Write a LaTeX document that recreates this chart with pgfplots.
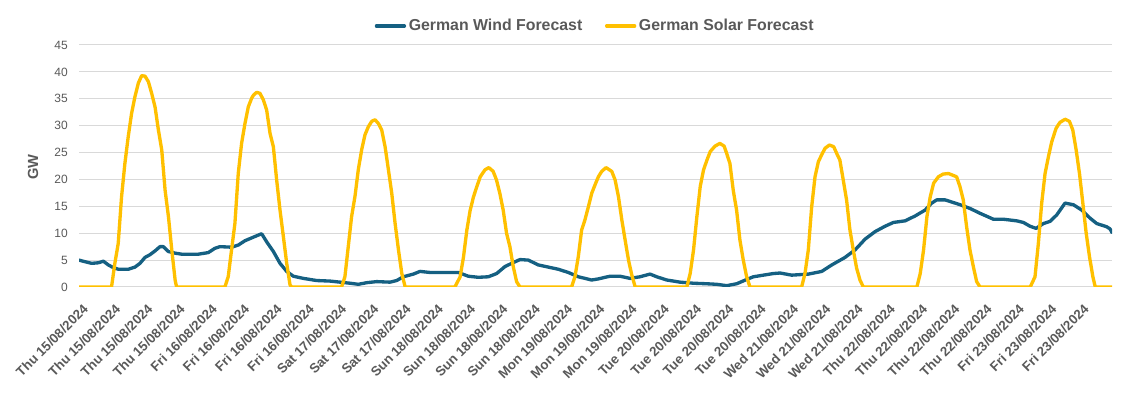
\documentclass[border=0pt]{standalone}
\usepackage{fontspec}
\setmainfont{Liberation Sans}
\usepackage{pgfplots}
\pgfplotsset{compat=1.18}
\newlength\px \setlength\px{0.75pt}
\definecolor{windc}{HTML}{156082}
\definecolor{solarc}{HTML}{FFC000}
\definecolor{txt}{HTML}{595959}
\definecolor{grd}{HTML}{D9D9D9}
\begin{document}
\begin{tikzpicture}
\path[use as bounding box] (0,0) rectangle (1132\px,398\px);
\begin{axis}[
  at={(79\px,111\px)}, anchor=south west,
  scale only axis, width=1033\px, height=242\px,
  xmin=0, xmax=216, ymin=0, ymax=45,
  ytick={0,5,...,45},
  xtick={0,6.75,13.5,20.25,27,33.75,40.5,47.25,54,60.75,67.5,74.25,81,87.75,94.5,101.25,108,114.75,121.5,128.25,135,141.75,148.5,155.25,162,168.75,175.5,182.25,189,195.75,202.5,209.25},
  xticklabels={Thu 15/08/2024,Thu 15/08/2024,Thu 15/08/2024,Thu 15/08/2024,
    Fri 16/08/2024,Fri 16/08/2024,Fri 16/08/2024,Fri 16/08/2024,
    Sat 17/08/2024,Sat 17/08/2024,Sat 17/08/2024,
    Sun 18/08/2024,Sun 18/08/2024,Sun 18/08/2024,Sun 18/08/2024,
    Mon 19/08/2024,Mon 19/08/2024,Mon 19/08/2024,
    Tue 20/08/2024,Tue 20/08/2024,Tue 20/08/2024,Tue 20/08/2024,
    Wed 21/08/2024,Wed 21/08/2024,Wed 21/08/2024,
    Thu 22/08/2024,Thu 22/08/2024,Thu 22/08/2024,Thu 22/08/2024,
    Fri 23/08/2024,Fri 23/08/2024,Fri 23/08/2024},
  axis lines*=left,
  x axis line style={-, draw=grd, line width=1\px},
  y axis line style={draw=none},
  major tick length=0pt,
  xtick style={draw=none}, ytick style={draw=none},
  ymajorgrids, grid style={grd, line width=1\px},
  /pgf/number format/assume math mode=true,
  yticklabel style={font=\fontsize{9}{10}\selectfont, text=txt, inner sep=0pt, anchor=east, xshift=-11\px},
  xticklabel style={font=\fontsize{10}{12}\selectfont\bfseries, text=txt, inner sep=0pt, anchor=north east, xshift=3\px, yshift=-16\px, rotate=45},
  legend style={at={(0.5,1)}, anchor=center, yshift=19\px, draw=none, fill=none,
    font=\fontsize{11.9}{13}\selectfont\bfseries, text=txt,
    /tikz/every even column/.append style={column sep=20\px}},
  legend columns=2,
  legend image code/.code={\draw[#1] (0pt,0pt) -- (28\px,0pt);},
  every axis plot/.append style={line width=2.5pt, line join=round, line cap=round},
]
\addplot[windc] coordinates {
(0,5.0) (1.25,4.7) (2.65,4.4) (4.04,4.5) (5.09,4.8) (6.13,4.1) (7.18,3.6) (8.22,3.3) (10.31,3.3) (11.71,3.7)
(12.75,4.4) (13.80,5.5) (14.84,6.0) (15.89,6.7) (16.93,7.5) (17.63,7.5) (18.68,6.6) (20.07,6.3) (21.46,6.1) (24.95,6.1)
(27.04,6.4) (28.43,7.2) (29.48,7.5) (31.92,7.4) (33.31,7.8) (34.70,8.6) (35.76,9.0) (36.81,9.4) (38.20,9.9) (39.24,8.4)
(40.64,6.6) (42.03,4.4) (43.43,2.9) (44.82,2.0) (46.91,1.6) (49.70,1.2) (52.48,1.1) (54.58,0.9) (56.67,0.7) (58.41,0.5)
(60.15,0.8) (62.24,1.0) (65.03,0.9) (66.42,1.2) (67.82,1.9) (69.91,2.4) (71.30,2.9) (73.39,2.7) (79.32,2.7) (81.41,2.0)
(83.50,1.8) (85.59,1.9) (87.33,2.5) (89.07,3.8) (90.47,4.4) (92.21,5.1) (93.95,5.0) (96.04,4.1) (98.13,3.7) (100.22,3.3)
(102.31,2.7) (104.41,1.9) (107.19,1.3) (108.59,1.5) (110.0,1.8) (111.04,2.0) (113.13,2.0) (115.22,1.6) (117.31,1.9) (119.40,2.4)
(120.80,1.9) (122.89,1.3) (125.67,0.9) (128.46,0.7) (131.25,0.6) (133.34,0.5) (135.43,0.25) (137.52,0.6) (139.61,1.4) (141.01,1.9)
(143.10,2.2) (145.19,2.5) (146.6,2.6) (149.03,2.2) (152.52,2.4) (155.31,2.9) (157.40,4.1) (158.79,4.8) (160.18,5.5) (162.28,6.9)
(164.37,8.9) (166.46,10.3) (168.55,11.3) (170.29,12.0) (172.73,12.3) (174.82,13.2) (176.91,14.3) (178.30,15.6) (179.35,16.2) (181.09,16.2)
(182.14,15.9) (184.23,15.3) (186.32,14.6) (188.41,13.7) (191.20,12.6) (193.29,12.6) (196.08,12.3) (197.47,12.0) (198.86,11.3) (200.12,10.9)
(201.65,11.8) (203.05,12.2) (204.44,13.4) (206.18,15.6) (207.92,15.3) (209.67,14.3) (211.41,12.8) (212.80,11.8) (214.89,11.2) (215.59,10.8)
(216.0,10.1)
};
\addlegendentry{German Wind Forecast}
\addplot[solarc] coordinates {
(0,0) (6.8,0) (7.5,4.4) (8.2,8.1) (8.9,16.8) (9.6,23) (10.3,28) (11.0,32.3) (11.7,35.4) (12.4,37.9)
(13.1,39.3) (13.8,39.2) (14.5,38.2) (15.2,36) (15.9,33.5) (16.6,29.2) (17.3,25.5) (18.0,18) (18.7,13.1) (19.4,6.9)
(20.1,1.3) (20.4,0) (30.5,0) (31.2,1.9) (31.9,6.9) (32.6,11.8) (33.3,21.1) (34.0,26.7) (34.7,30.4) (35.4,33.5)
(36.1,35.1) (36.5,35.7) (37.15,36.2) (37.85,36.0) (38.55,34.8) (39.24,32.9) (39.94,28.6) (40.64,26.1) (41.33,19.9) (42.03,14.3)
(42.73,9.4) (43.43,4.4) (44.12,0.4) (44.47,0) (54.9,0) (55.6,1.9) (56.3,7.5) (57.0,13.1) (57.7,16.8) (58.4,21.8)
(59.1,25.5) (59.8,28.3) (60.5,29.8) (61.2,30.8) (61.9,31.1) (62.6,30.4) (63.3,29.2) (64.0,26.1) (64.7,21.8) (65.4,17.4)
(66.1,11.8) (66.8,6.9) (67.5,2.5) (68.2,0) (78.6,0) (79.7,1.9) (80.4,5.6) (81.1,10.6) (81.8,14.3) (82.5,16.8)
(83.2,18.7) (83.9,20.5) (84.9,21.8) (85.7,22.2) (86.6,21.5) (87.3,19.9) (88.0,17.4) (88.7,14.3) (89.4,10.0) (90.1,7.5)
(90.8,3.8) (91.5,1.0) (92.2,0) (103.0,0) (103.7,1.9) (104.4,5.6) (105.1,10.6) (105.8,12.5) (106.5,14.9) (107.2,17.4)
(107.9,19.0) (108.6,20.5) (109.3,21.5) (110.2,22.2) (111.4,21.5) (112.1,19.9) (112.8,16.8) (113.5,12.5) (114.2,8.7) (114.9,5.0)
(115.6,2.2) (116.3,0) (127.1,0) (127.8,2.5) (128.5,6.9) (129.2,13.1) (129.9,18.7) (130.6,21.8) (131.3,23.6) (132.0,25.2)
(133.0,26.2) (134.0,26.7) (134.9,26.2) (135.4,24.9) (136.1,23.0) (136.8,18.0) (137.5,14.3) (138.2,8.7) (138.9,5.0) (139.6,1.9)
(140.3,0) (151.1,0) (151.8,2.5) (152.5,6.9) (153.2,14.9) (153.9,20.5) (154.6,23.3) (155.3,24.6) (156.0,25.8) (156.9,26.4)
(157.8,26.1) (158.4,24.9) (159.1,23.6) (159.8,19.9) (160.5,16.2) (161.2,10.6) (161.9,6.9) (162.6,3.5) (163.3,1.3) (164.0,0)
(175.2,0) (175.9,2.5) (176.6,6.9) (177.3,13.1) (178.0,16.8) (178.7,19.3) (179.7,20.5) (180.7,21.0) (181.8,21.1) (183.5,20.5)
(184.2,18.7) (184.9,16.2) (185.6,11.2) (186.3,6.9) (187.0,3.8) (187.7,1.0) (188.4,0) (198.9,0) (199.9,1.9) (200.6,8.1)
(201.3,15.6) (202.0,21.1) (202.7,24.2) (203.4,27.0) (204.3,29.5) (205.1,30.6) (206.2,31.2) (207.1,30.8) (207.8,29.2) (208.5,25.5)
(209.2,21.1) (209.9,15.6) (210.6,10.0) (211.3,5.6) (212.0,1.9) (212.5,0) (216,0)
};
\addlegendentry{German Solar Forecast}
\end{axis}
\node[rotate=90, font=\fontsize{11}{12}\selectfont\bfseries, text=txt, inner sep=0pt] at (33\px,231\px) {GW};
\end{tikzpicture}
\end{document}
